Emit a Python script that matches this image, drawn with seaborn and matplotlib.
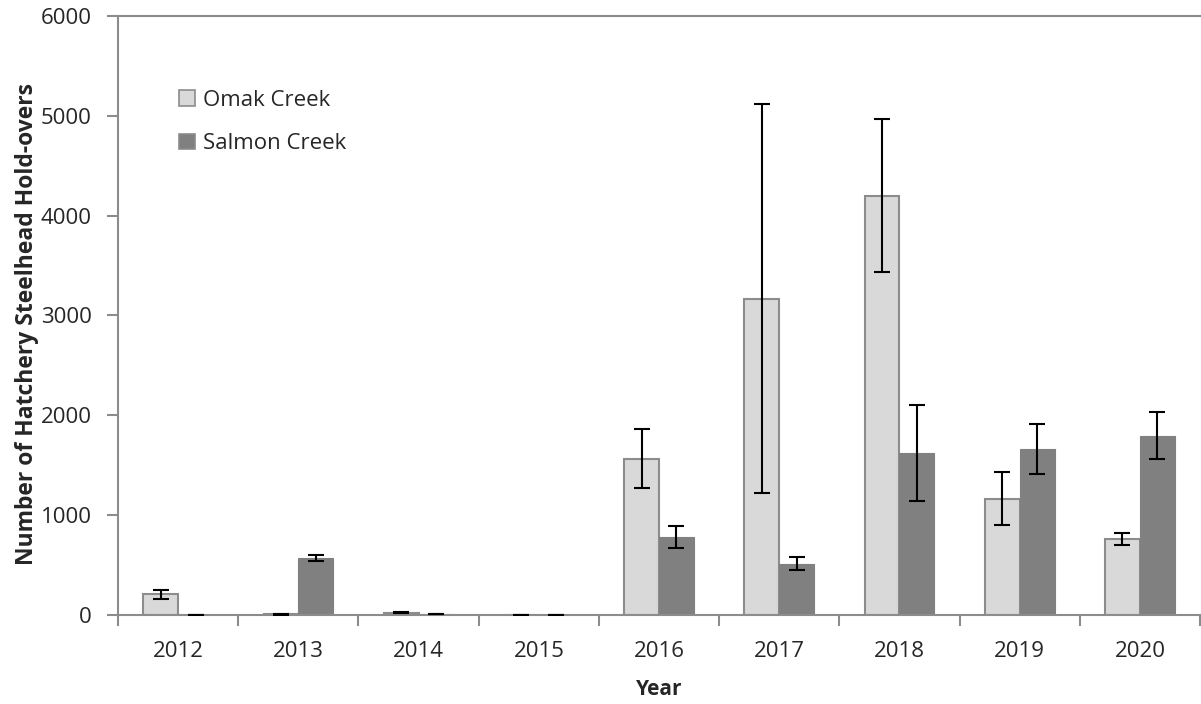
import matplotlib
matplotlib.use("Agg")
import matplotlib.pyplot as plt
import seaborn as sns
import pandas as pd
import numpy as np

years = ["2012", "2013", "2014", "2015", "2016", "2017", "2018", "2019", "2020"]
omak = [210, 10, 25, 3, 1565, 3170, 4200, 1165, 760]
omak_err = [45, 5, 5, 0, 295, 1945, 765, 265, 57]
salmon = [5, 575, 10, 3, 785, 515, 1625, 1660, 1795]
salmon_err = [0, 30, 3, 0, 110, 62, 480, 250, 235]

df = pd.DataFrame({
    "Year": years * 2,
    "Count": omak + salmon,
    "Site": ["Omak Creek"] * len(years) + ["Salmon Creek"] * len(years),
})
errs = {"Omak Creek": omak_err, "Salmon Creek": salmon_err}

sns.set_style("white")
plt.rcParams["font.family"] = ["Open Sans", "DejaVu Sans"]

fig = plt.figure(figsize=(12.01, 7.04), dpi=100)
ax = fig.add_axes([0.0983, 0.1264, 0.9009, 0.8509])

sns.barplot(data=df, x="Year", y="Count", hue="Site",
            palette={"Omak Creek": "#d9d9d9", "Salmon Creek": "#808080"},
            errorbar=None, width=0.58, ax=ax)

for cont, site in zip(ax.containers, ["Omak Creek", "Salmon Creek"]):
    xs = [b.get_x() + b.get_width() / 2 for b in cont]
    hs = [b.get_height() for b in cont]
    for b in cont:
        if site == "Omak Creek":
            b.set_edgecolor("#8c8c8c")
            b.set_linewidth(1.5)
        else:
            b.set_edgecolor("#808080")
            b.set_linewidth(0.8)
    ax.errorbar(xs, hs, yerr=errs[site], fmt="none", ecolor="black",
                elinewidth=1.5, capsize=6, capthick=1.5, zorder=5)

ax.set_ylim(0, 6000)
ax.set_xlim(-0.5, 8.5)
ax.set_yticks(range(0, 6001, 1000))
ax.set_xticks(np.arange(-0.5, 9, 1), minor=True)

for side in ["left", "bottom", "top"]:
    ax.spines[side].set_color("#8c8c8c")
    ax.spines[side].set_linewidth(1.5)
ax.spines["right"].set_visible(False)

ax.tick_params(axis="y", which="major", left=True, length=8, width=1.5,
               color="#8c8c8c", labelsize=16, pad=11)
ax.tick_params(axis="x", which="major", bottom=False, length=0,
               labelsize=16, pad=19)
ax.tick_params(axis="x", which="minor", bottom=True, length=8, width=1.5,
               color="#8c8c8c")

ax.set_xlabel("Year", fontsize=15, fontweight="bold", labelpad=12)
ax.set_ylabel("Number of Hatchery Steelhead Hold-overs", fontsize=16.5,
              fontweight="bold")
ax.yaxis.set_label_coords(-0.073, 0.485)

leg = ax.legend(loc="upper left", bbox_to_anchor=(0.038, 0.91), frameon=False,
                fontsize=16, handlelength=0.7, handleheight=0.7,
                handletextpad=0.35, labelspacing=1.0)
for h in leg.legend_handles:
    h.set_edgecolor("#8c8c8c")
    h.set_linewidth(1.2)

fig.savefig("out.png", dpi=100)
